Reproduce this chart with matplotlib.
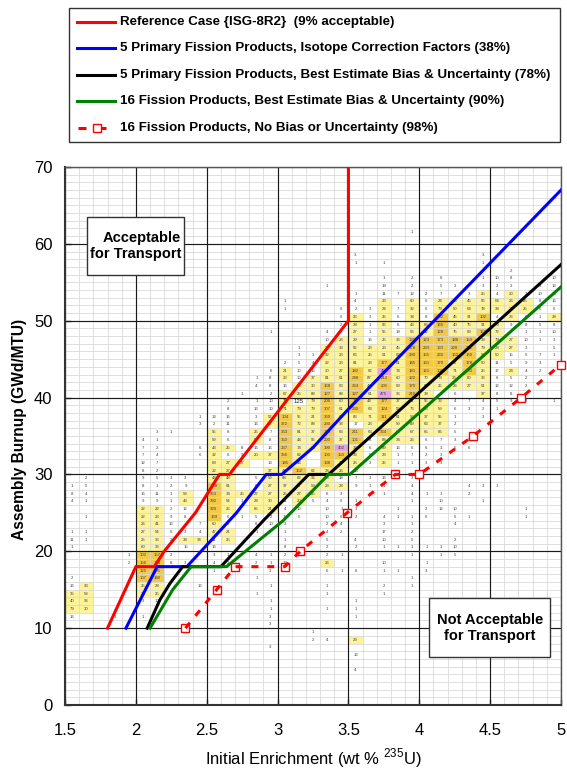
import numpy as np
import matplotlib
matplotlib.use('Agg')
import matplotlib.pyplot as plt
from matplotlib.colors import ListedColormap, BoundaryNorm
from matplotlib.patches import Rectangle
from matplotlib.ticker import FixedLocator

plt.rcParams['font.family'] = ['Liberation Sans', 'DejaVu Sans']

# ---------------- data ----------------
ref_x = [1.8, 2.0, 2.13, 2.2, 2.42, 2.59, 2.66, 3.5, 3.5]
ref_y = [10, 18, 18, 20, 25, 30, 30, 50, 70]
icf_x = [1.93, 2.15, 2.36, 2.71, 2.92, 3.03, 3.25, 3.5, 5.0]
icf_y = [10, 18, 18, 25, 30, 30, 33.5, 38.5, 67]
fp5_x = [2.08, 2.17, 2.24, 2.33, 2.6, 2.9, 3.22, 3.36, 3.6, 3.9, 5.0]
fp5_y = [10, 13.7, 15.8, 18, 18, 24, 30, 30, 34, 39, 57.3]
fp16_x = [2.1, 2.26, 2.39, 2.64, 3.04, 3.36, 3.51, 5.0]
fp16_y = [10, 15, 18, 18, 24, 30, 30, 54.4]
nobias_x = [2.35, 2.57, 2.70, 3.05, 3.16, 3.49, 3.83, 4.0, 4.38, 4.72, 5.0]
nobias_y = [10, 15, 18, 18, 20, 25, 30, 30, 35, 40, 44.3]

legend_labels = [
    'Reference Case {ISG-8R2}  (9% acceptable)',
    '5 Primary Fission Products, Isotope Correction Factors (38%)',
    '5 Primary Fission Products, Best Estimate Bias & Uncertainty (78%)',
    '16 Fission Products, Best Estimate Bias & Uncertainty (90%)',
    '16 Fission Products, No Bias or Uncertainty (98%)',
]

x_ticks = [1.5, 2, 2.5, 3, 3.5, 4, 4.5, 5]
x_tick_labels = ['1.5', '2', '2.5', '3', '3.5', '4', '4.5', '5']
y_ticks = [0, 10, 20, 30, 40, 50, 60, 70]

# assembly counts per cell: enrichment bin start -> {burnup bin start: count}
cell_counts = {
    1.5: {28: 1, 27: 8, 26: 4, 22: 1, 21: 11, 20: 1, 16: 2, 15: 16, 14: 35, 13: 40, 12: 79, 11: 16},
    1.6: {29: 2, 28: 5, 27: 4, 26: 1, 24: 1, 22: 1, 21: 1, 15: 33, 14: 58, 13: 96, 12: 30},
    1.8: {11: 1},
    1.9: {19: 1, 18: 2},
    2.0: {34: 4, 33: 7, 32: 7, 31: 12, 30: 8, 29: 9, 28: 8, 27: 16, 26: 9, 25: 22, 24: 22, 23: 26,
          22: 27, 21: 25, 20: 60, 19: 103, 18: 156, 17: 125, 16: 107, 15: 25, 14: 20, 13: 3, 11: 1},
    2.1: {35: 3, 34: 1, 33: 2, 32: 4, 31: 7, 30: 2, 29: 5, 28: 1, 27: 11, 26: 9, 25: 22, 24: 23,
          23: 41, 22: 54, 21: 36, 20: 36, 19: 157, 18: 164, 17: 105, 16: 140, 15: 28, 14: 25, 13: 10},
    2.2: {35: 1, 29: 3, 28: 2, 27: 1, 26: 1, 25: 2, 24: 9, 23: 16, 22: 6, 21: 2, 19: 2, 18: 8},
    2.3: {29: 3, 28: 9, 27: 59, 26: 43, 25: 12, 24: 8, 22: 3, 21: 38, 20: 15, 18: 3},
    2.4: {37: 1, 36: 3, 33: 6, 32: 6, 23: 7, 22: 4, 21: 34, 15: 16},
    2.5: {37: 13, 36: 2, 35: 55, 34: 59, 33: 43, 32: 32, 31: 69, 30: 22, 29: 44, 28: 148, 27: 363,
          26: 392, 25: 320, 24: 169, 23: 60, 22: 47, 21: 11, 20: 16, 19: 3, 18: 4, 17: 1},
    2.6: {39: 2, 38: 8, 37: 16, 36: 11, 35: 8, 34: 6, 33: 25, 32: 6, 31: 27, 30: 27, 29: 48, 28: 61,
          27: 34, 26: 54, 25: 26, 24: 6, 23: 6, 22: 21, 21: 25, 19: 1, 18: 2},
    2.7: {40: 1, 33: 8, 32: 9, 31: 27, 27: 25, 26: 1, 24: 1},
    2.8: {42: 1, 41: 4, 39: 1, 38: 16, 37: 3, 36: 16, 35: 25, 34: 53, 33: 16, 32: 20, 29: 5, 28: 8,
          27: 27, 26: 28, 25: 65, 24: 5, 23: 8, 22: 1, 19: 4, 18: 2, 16: 1, 14: 1},
    2.9: {48: 1, 43: 6, 42: 8, 41: 8, 40: 2, 39: 10, 38: 10, 37: 52, 36: 62, 35: 7, 34: 8, 33: 16,
          32: 37, 31: 13, 30: 37, 29: 59, 28: 27, 27: 27, 26: 30, 25: 21, 24: 2, 23: 10, 22: 3,
          19: 1, 18: 1, 17: 3, 15: 1, 13: 1, 12: 1, 11: 3, 10: 3, 7: 3},
    3.0: {52: 1, 51: 1, 44: 2, 43: 21, 42: 23, 41: 16, 40: 67, 39: 70, 38: 71, 37: 104, 36: 372,
          35: 363, 34: 350, 33: 237, 32: 356, 31: 185, 30: 44, 29: 88, 28: 97, 27: 25, 26: 11,
          25: 4, 24: 15, 23: 3, 22: 1, 21: 1, 20: 8, 19: 2, 18: 12},
    3.1: {46: 1, 45: 3, 44: 5, 43: 10, 42: 10, 41: 26, 40: 25, 38: 79, 37: 55, 36: 72, 35: 81,
          34: 44, 33: 74, 32: 82, 31: 43, 30: 152, 29: 62, 28: 27, 27: 27, 26: 20, 25: 10, 24: 5},
    3.2: {45: 3, 44: 4, 43: 15, 42: 37, 41: 30, 40: 88, 39: 79, 38: 79, 37: 21, 36: 88, 35: 37,
          34: 56, 33: 60, 30: 62, 29: 96, 28: 59, 27: 25, 26: 5, 9: 1, 8: 2},
    3.3: {54: 1, 48: 4, 47: 10, 46: 33, 45: 32, 44: 22, 43: 30, 42: 81, 41: 168, 40: 127, 39: 206,
          38: 307, 37: 360, 36: 230, 35: 158, 34: 200, 33: 190, 32: 100, 31: 138, 30: 28, 29: 23,
          28: 23, 27: 6, 26: 4, 25: 10, 24: 10, 23: 2, 22: 4, 21: 5, 20: 2, 19: 2, 18: 26, 17: 6,
          15: 1, 14: 1, 12: 1, 8: 4},
    3.4: {51: 6, 50: 6, 49: 2, 48: 2, 47: 23, 46: 33, 45: 23, 44: 23, 43: 27, 42: 61, 41: 63,
          40: 68, 39: 60, 38: 61, 37: 63, 36: 93, 35: 63, 34: 37, 33: 402, 32: 150, 31: 28, 30: 23,
          29: 18, 28: 28, 27: 3, 26: 6, 25: 1, 24: 6, 23: 4, 22: 2, 19: 1, 17: 1},
    3.5: {58: 3, 57: 1, 53: 1, 52: 4, 51: 2, 50: 26, 49: 28, 48: 27, 47: 29, 46: 52, 45: 66, 44: 81,
          43: 182, 42: 248, 41: 364, 40: 127, 39: 117, 38: 230, 37: 83, 36: 17, 35: 211, 34: 101,
          33: 37, 32: 33, 31: 26, 30: 13, 29: 7, 28: 9, 26: 1, 25: 1, 24: 2, 21: 4, 20: 2, 17: 6,
          13: 1, 12: 1, 11: 1, 8: 29, 6: 12, 4: 4},
    3.6: {51: 3, 50: 3, 49: 1, 48: 1, 47: 16, 46: 23, 45: 25, 44: 23, 43: 62, 42: 87, 41: 42,
          40: 61, 39: 44, 38: 63, 37: 71, 36: 23, 35: 63, 34: 8, 33: 6, 32: 6, 31: 3, 29: 3, 28: 1,
          27: 1},
    3.7: {57: 1, 55: 1, 54: 19, 53: 11, 52: 23, 51: 24, 50: 25, 49: 56, 48: 55, 47: 25, 46: 23,
          45: 51, 44: 177, 43: 450, 42: 212, 41: 205, 40: 475, 39: 177, 38: 124, 37: 111, 36: 99,
          35: 364, 34: 88, 33: 89, 32: 29, 31: 25, 29: 16, 28: 1, 27: 1, 24: 4, 23: 3, 22: 17,
          21: 10, 20: 1, 18: 10, 17: 1, 15: 2, 14: 1},
    3.8: {53: 7, 51: 7, 50: 6, 49: 6, 48: 19, 47: 36, 46: 45, 45: 62, 44: 61, 43: 74, 42: 60,
          41: 69, 40: 36, 39: 37, 38: 52, 37: 61, 36: 59, 35: 60, 34: 34, 33: 16, 32: 1, 31: 1,
          29: 3, 25: 1, 24: 1, 20: 1, 17: 1},
    3.9: {61: 1, 55: 2, 54: 2, 53: 12, 52: 60, 51: 32, 50: 38, 49: 43, 48: 53, 47: 120, 46: 178,
          45: 230, 44: 145, 43: 181, 42: 122, 41: 170, 40: 210, 39: 91, 38: 76, 37: 59, 36: 89,
          35: 67, 34: 26, 33: 6, 32: 7, 31: 1, 29: 3, 28: 4, 27: 4, 26: 1, 24: 1, 23: 1, 22: 2,
          21: 5, 20: 1, 19: 1, 16: 1, 15: 1},
    4.0: {53: 2, 52: 6, 51: 6, 50: 8, 49: 86, 48: 42, 47: 123, 46: 233, 45: 155, 44: 161, 43: 121,
          42: 70, 41: 63, 40: 38, 39: 55, 38: 86, 37: 37, 36: 63, 35: 65, 34: 6, 33: 6, 32: 2,
          31: 3, 27: 1, 25: 2, 24: 6, 20: 1, 18: 1, 17: 3},
    4.1: {55: 6, 54: 5, 53: 7, 52: 24, 51: 79, 50: 132, 49: 165, 48: 128, 47: 173, 46: 133,
          45: 260, 44: 170, 43: 102, 42: 79, 41: 25, 40: 2, 39: 33, 38: 59, 37: 55, 36: 37, 35: 86,
          34: 7, 33: 3, 32: 3, 31: 3, 27: 1, 26: 10, 25: 12, 20: 1, 19: 1},
    4.2: {54: 2, 52: 45, 51: 50, 50: 45, 49: 40, 48: 75, 47: 188, 46: 228, 45: 162, 44: 57, 43: 71,
          42: 36, 41: 26, 40: 6, 39: 4, 38: 6, 37: 1, 36: 2, 35: 5, 34: 3, 33: 5, 25: 10, 24: 5,
          23: 4, 21: 2, 20: 10, 19: 5},
    4.3: {53: 3, 52: 45, 51: 64, 50: 91, 49: 75, 48: 69, 47: 150, 46: 211, 45: 160, 44: 178,
          43: 103, 42: 80, 41: 27, 39: 7, 38: 3, 34: 5, 33: 6, 28: 4, 27: 2, 24: 1},
    4.4: {58: 3, 57: 1, 55: 1, 54: 3, 53: 25, 52: 56, 51: 78, 50: 102, 49: 91, 48: 153, 47: 39,
          46: 79, 45: 50, 44: 50, 43: 25, 42: 36, 41: 51, 40: 37, 39: 4, 38: 2, 37: 3, 28: 3, 26: 1},
    4.5: {55: 10, 54: 2, 53: 4, 52: 64, 51: 38, 50: 4, 49: 79, 48: 72, 47: 79, 46: 28, 45: 50,
          44: 11, 43: 17, 42: 6, 41: 12, 40: 8, 39: 5, 38: 1, 28: 1},
    4.6: {56: 2, 55: 8, 54: 2, 53: 20, 52: 26, 51: 21, 50: 36, 49: 9, 48: 9, 47: 27, 46: 27,
          45: 15, 44: 5, 43: 24, 42: 5, 41: 12, 40: 8, 39: 9},
    4.7: {53: 2, 52: 25, 51: 25, 50: 6, 49: 8, 48: 1, 47: 10, 46: 3, 45: 5, 44: 9, 43: 4, 42: 2,
          41: 2, 39: 2, 25: 1, 24: 1},
    4.8: {54: 1, 53: 10, 52: 8, 51: 6, 50: 1, 49: 5, 48: 1, 47: 1, 45: 7, 44: 3, 43: 2},
    4.9: {55: 10, 54: 13, 53: 13, 52: 16, 51: 6, 50: 28, 49: 8, 48: 10, 47: 3, 46: 5, 45: 1, 39: 1},
}
note_cell = (3.1, 39, 125)

# count classes for the cell shading
count_bounds = [20, 100, 400, 100000]
count_colors = ['#fdf39b', '#f3c94a', '#e6a3df']

# ---------------- figure ----------------
fig = plt.figure(figsize=(5.67, 7.69), dpi=100)
ax = fig.add_axes([65 / 567, 1 - 705 / 769, 496 / 567, 538 / 769])

x_edges = np.round(np.arange(1.5, 5.0001, 0.1), 2)
y_edges = np.arange(0, 71, 1)
Z = np.zeros((len(y_edges) - 1, len(x_edges) - 1))
for e, col in cell_counts.items():
    ci = int(round((e - 1.5) * 10))
    for b, n in col.items():
        Z[b, ci] = n
Zm = np.ma.masked_less(Z, count_bounds[0])
cmap = ListedColormap(count_colors)
norm = BoundaryNorm(count_bounds, cmap.N)
ax.pcolormesh(x_edges, y_edges, Zm, cmap=cmap, norm=norm, shading='flat',
              edgecolors='none', antialiased=False, zorder=0.8)

for e, col in cell_counts.items():
    for b, n in col.items():
        ax.text(e + 0.05, b + 0.5, str(n), fontsize=3.1, ha='center', va='center',
                color='#3c3c3c', zorder=3)
ax.text(note_cell[0] + 0.05, note_cell[1] + 0.5, str(note_cell[2]), fontsize=4.3,
        ha='center', va='center', color='#222222', zorder=3)

ax.set_xlim(1.5, 5)
ax.set_ylim(0, 70)
ax.set_xticks(x_ticks)
ax.set_xticklabels(x_tick_labels)
ax.set_yticks(y_ticks)
# minor grid positions that do not coincide with the major ones
x_minor = [v for v in x_edges if round(v * 10) % 5 != 0]
y_minor = [v for v in y_edges if v % 10 != 0]
ax.xaxis.set_minor_locator(FixedLocator(x_minor))
ax.yaxis.set_minor_locator(FixedLocator(y_minor))
ax.set_axisbelow('line')
ax.grid(which='minor', color='#d6d6d6', lw=0.55)
# major grid drawn above the minor one
ax.vlines(x_ticks, 0, 70, colors='#1a1a1a', lw=0.85, zorder=1.7)
ax.hlines(y_ticks, 1.5, 5, colors='#1a1a1a', lw=0.85, zorder=1.7)
ax.tick_params(which='major', direction='in', length=4, width=1, color='#333333',
               labelsize=12)
ax.tick_params(axis='x', which='major', pad=13)
ax.tick_params(axis='y', which='major', pad=9)
ax.tick_params(which='minor', length=0)
for s in ax.spines.values():
    s.set_color('#555555')
    s.set_linewidth(1.0)
ax.spines['bottom'].set_color('#333333')
ax.spines['left'].set_color('#333333')
ax.spines['bottom'].set_linewidth(1.5)
ax.spines['left'].set_linewidth(1.5)

ax.set_xlabel(r'Initial Enrichment (wt % $^{\mathregular{235}}$U)', fontsize=12, va='center')
ax.xaxis.set_label_coords(0.5, -0.098)
ax.set_ylabel('Assembly Burnup (GWd/MTU)', fontsize=11.2, fontweight='bold', va='center')
ax.yaxis.set_label_coords(-0.092, 0.513)

lw = 2.2
ax.plot(ref_x, ref_y, color='#ff0000', lw=lw, zorder=6, solid_joinstyle='miter')
ax.plot(icf_x, icf_y, color='#0000ff', lw=lw, zorder=6)
ax.plot(fp5_x, fp5_y, color='#000000', lw=lw, zorder=6)
ax.plot(fp16_x, fp16_y, color='#008000', lw=lw, zorder=6)
ax.plot(nobias_x, nobias_y, ls='none', marker='s', ms=6, mfc='white', mec='#ff0000',
        mew=1.0, zorder=6, clip_on=False)
ax.plot(nobias_x, nobias_y, color='#ff0000', lw=lw, ls=(0, (2.3, 2.9)), zorder=7,
        clip_on=False)

# region annotations
ax.add_patch(Rectangle((0.0437, 0.7993), 0.1968, 0.1083, transform=ax.transAxes,
                       fc='white', ec='#333333', lw=1.0, zorder=8))
ax.text(0.2339, 0.8528, 'Acceptable\nfor Transport', transform=ax.transAxes,
        ha='right', va='center', multialignment='right', fontsize=10.5,
        fontweight='bold', linespacing=1.15, zorder=9)
ax.add_patch(Rectangle((0.7345, 0.0898), 0.2433, 0.1085, transform=ax.transAxes,
                       fc='white', ec='#333333', lw=1.0, zorder=8))
ax.text(0.8569, 0.1435, 'Not Acceptable\nfor Transport', transform=ax.transAxes,
        ha='center', va='center', multialignment='center', fontsize=10.5,
        fontweight='bold', linespacing=1.15, zorder=9)

# legend box
lax = fig.add_axes([68 / 567, 1 - 142 / 769, 492 / 567, 135 / 769])
lax.set_xlim(0, 492)
lax.set_ylim(135, 0)
lax.axis('off')
lax.add_patch(Rectangle((0.5, 0.5), 491, 134, fill=False, ec='#333333', lw=1.0,
                        clip_on=False))
leg_colors = ['#ff0000', '#0000ff', '#000000', '#008000']
for i, lab in enumerate(legend_labels):
    y = 14.7 + 26.5 * i
    if i < 4:
        lax.plot([9, 47], [y, y], color=leg_colors[i], lw=lw)
    else:
        lax.plot([10.3, 18], [y, y], color='#ff0000', lw=lw, solid_capstyle='butt')
        lax.plot([32, 38], [y, y], color='#ff0000', lw=lw, solid_capstyle='butt')
        lax.plot([28.7], [y], ls='none', marker='s', ms=6, mfc='white', mec='#ff0000', mew=1.0)
    lax.text(52, y, lab, fontsize=9.6, fontweight='bold', ha='left', va='center')

fig.savefig('out.png', dpi=100)
